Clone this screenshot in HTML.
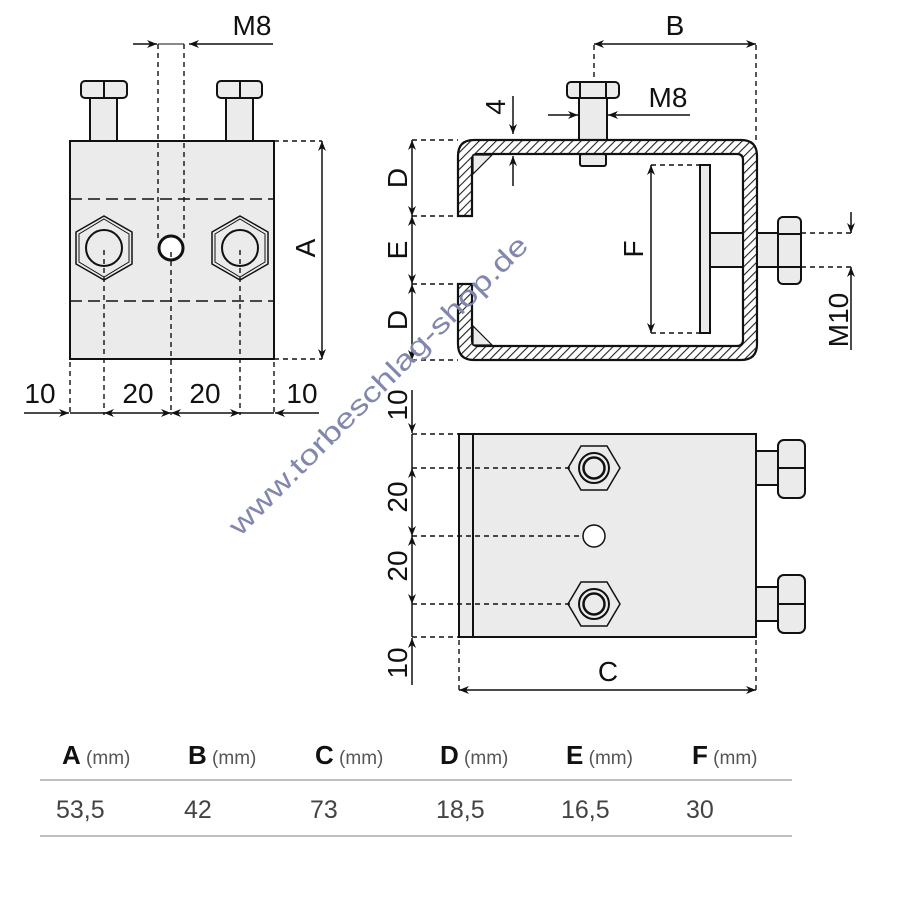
<!DOCTYPE html>
<html><head><meta charset="utf-8"><style>
html,body{margin:0;padding:0;background:#fff;}
svg{display:block;}
text{font-family:"Liberation Sans",sans-serif;fill:#111;}
</style></head><body>
<svg width="900" height="900" viewBox="0 0 900 900" xmlns="http://www.w3.org/2000/svg">
<defs>
<pattern id="h" width="6" height="6" patternUnits="userSpaceOnUse" patternTransform="rotate(45)">
<rect width="6" height="6" fill="#fff"/><line x1="0" y1="0" x2="0" y2="6" stroke="#222" stroke-width="2.2"/>
</pattern>
<marker id="a" viewBox="0 0 10 10" refX="10" refY="5" markerWidth="10" markerHeight="10" orient="auto-start-reverse" markerUnits="userSpaceOnUse">
<path d="M0,1 L10,5 L0,9 L3,5 z" fill="#111"/></marker>
</defs>
<g stroke="#111" stroke-width="2" fill="none">
<!-- LEFT VIEW -->
<rect x="90" y="97" width="27" height="44" fill="#ebebeb"/>
<rect x="226" y="97" width="27" height="44" fill="#ebebeb"/>
<rect x="81" y="81" width="46" height="17" rx="4" fill="#ebebeb"/><line x1="104" y1="81" x2="104" y2="98"/>
<rect x="217" y="81" width="45" height="17" rx="4" fill="#ebebeb"/><line x1="240" y1="81" x2="240" y2="98"/>
<rect x="70" y="141" width="204" height="218" fill="#ebebeb"/>
<g stroke-dasharray="12,6" stroke-width="1.6"><line x1="70" y1="199" x2="274" y2="199"/><line x1="70" y1="301" x2="274" y2="301"/></g>
<polygon points="104,216 132,232 132,264 104,280 76,264 76,232" stroke-width="1.5"/>
<polygon points="104,219 129,234 129,262 104,277 79,262 79,234" stroke-width="1"/>
<circle cx="104" cy="248" r="18"/>
<polygon points="240,216 268,232 268,264 240,280 212,264 212,232" stroke-width="1.5"/>
<polygon points="240,219 265,234 265,262 240,277 215,262 215,234" stroke-width="1"/>
<circle cx="240" cy="248" r="18"/>
<circle cx="171" cy="248" r="12" stroke-width="3" fill="#fff"/>
<g stroke-dasharray="5,4" stroke-width="1.4">
<line x1="158" y1="44" x2="158" y2="240"/><line x1="184" y1="44" x2="184" y2="240"/>
<line x1="70" y1="362" x2="70" y2="415"/><line x1="104" y1="250" x2="104" y2="415"/><line x1="171" y1="252" x2="171" y2="415"/><line x1="240" y1="250" x2="240" y2="415"/><line x1="274" y1="362" x2="274" y2="415"/>
<line x1="274" y1="141" x2="322" y2="141"/><line x1="274" y1="359" x2="322" y2="359"/>
</g>
<line x1="158" y1="44" x2="184" y2="44" stroke-width="1"/>
<g stroke-width="1.5">
<line x1="133" y1="44" x2="157" y2="44" marker-end="url(#a)"/>
<line x1="273" y1="44" x2="189" y2="44" marker-end="url(#a)"/>
<line x1="322" y1="141" x2="322" y2="359" marker-start="url(#a)" marker-end="url(#a)"/>
<line x1="24" y1="413" x2="69" y2="413" marker-end="url(#a)"/>
<line x1="104" y1="413" x2="171" y2="413" marker-start="url(#a)" marker-end="url(#a)"/>
<line x1="171" y1="413" x2="240" y2="413" marker-start="url(#a)" marker-end="url(#a)"/>
<line x1="319" y1="413" x2="275" y2="413" marker-end="url(#a)"/>
<line x1="70" y1="413" x2="104" y2="413"/><line x1="240" y1="413" x2="274" y2="413"/>
</g>
<!-- TOP RIGHT -->
<rect x="579" y="98" width="28" height="42" fill="#ebebeb"/>
<rect x="580" y="154" width="26" height="12" rx="2" fill="#ebebeb"/>
<rect x="567" y="82" width="52" height="16" rx="4" fill="#ebebeb"/><line x1="580" y1="82" x2="580" y2="98"/><line x1="606" y1="82" x2="606" y2="98"/>
<path fill="url(#h)" stroke-width="2.2" d="M472,216 L458,216 L458,156 Q458,140 474,140 L741,140 Q757,140 757,156 L757,344 Q757,360 741,360 L474,360 Q458,360 458,344 L458,284 L472,284 L472,340 Q472,346 478,346 L737,346 Q743,346 743,340 L743,160 Q743,154 737,154 L478,154 Q472,154 472,160 Z"/>
<polygon points="473,155 492,155 473,174" fill="#ebebeb" stroke-width="1.2"/>
<polygon points="473,345 492,345 473,326" fill="#ebebeb" stroke-width="1.2"/>
<rect x="700" y="165" width="10" height="168" fill="#ebebeb"/>
<rect x="710" y="233" width="33" height="34" fill="#ebebeb"/>
<rect x="757" y="233" width="21" height="34" fill="#ebebeb"/>
<rect x="778" y="217" width="23" height="67" rx="5" fill="#ebebeb"/><line x1="778" y1="234" x2="801" y2="234"/><line x1="778" y1="267" x2="801" y2="267"/>
<g stroke-dasharray="5,4" stroke-width="1.4">
<line x1="594" y1="45" x2="594" y2="80"/><line x1="756" y1="45" x2="756" y2="140"/>
<line x1="412" y1="140" x2="458" y2="140"/><line x1="412" y1="216" x2="458" y2="216"/><line x1="412" y1="284" x2="458" y2="284"/><line x1="412" y1="360" x2="458" y2="360"/>
<line x1="651" y1="165" x2="700" y2="165"/><line x1="651" y1="333" x2="700" y2="333"/>
<line x1="801" y1="233" x2="852" y2="233"/><line x1="801" y1="267" x2="852" y2="267"/>
</g>
<g stroke-width="1.5">
<line x1="594" y1="44" x2="756" y2="44" marker-start="url(#a)" marker-end="url(#a)"/>
<line x1="548" y1="115" x2="578" y2="115" marker-end="url(#a)"/>
<line x1="690" y1="115" x2="608" y2="115" marker-end="url(#a)"/>
<line x1="513" y1="96" x2="513" y2="134" marker-end="url(#a)"/>
<line x1="513" y1="186" x2="513" y2="156" marker-end="url(#a)"/>
<line x1="412" y1="140" x2="412" y2="216" marker-start="url(#a)" marker-end="url(#a)"/>
<line x1="412" y1="216" x2="412" y2="284" marker-start="url(#a)" marker-end="url(#a)"/>
<line x1="412" y1="284" x2="412" y2="360" marker-start="url(#a)" marker-end="url(#a)"/>
<line x1="651" y1="165" x2="651" y2="333" marker-start="url(#a)" marker-end="url(#a)"/>
<line x1="851" y1="212" x2="851" y2="233" marker-end="url(#a)"/>
<line x1="851" y1="350" x2="851" y2="267" marker-end="url(#a)"/>
</g>
<!-- BOTTOM RIGHT -->
<rect x="756" y="451" width="22" height="34" fill="#ebebeb"/>
<rect x="778" y="440" width="27" height="58" rx="6" fill="#ebebeb"/><line x1="778" y1="468" x2="805" y2="468"/>
<rect x="756" y="587" width="22" height="34" fill="#ebebeb"/>
<rect x="778" y="575" width="27" height="58" rx="6" fill="#ebebeb"/><line x1="778" y1="604" x2="805" y2="604"/>
<rect x="459" y="434" width="297" height="203" fill="#ebebeb"/>
<line x1="473" y1="434" x2="473" y2="637"/>
<polygon points="568,468 581,446 607,446 620,468 607,490 581,490" stroke-width="1.5"/>
<circle cx="594" cy="468" r="15"/><circle cx="594" cy="468" r="10.5" stroke-width="2.5"/>
<polygon points="568,604 581,582 607,582 620,604 607,626 581,626" stroke-width="1.5"/>
<circle cx="594" cy="604" r="15"/><circle cx="594" cy="604" r="10.5" stroke-width="2.5"/>
<circle cx="594" cy="536" r="11" fill="#fff" stroke-width="1.5"/>
<g stroke-dasharray="5,4" stroke-width="1.4">
<line x1="412" y1="434" x2="459" y2="434"/><line x1="412" y1="637" x2="459" y2="637"/>
<line x1="412" y1="468" x2="570" y2="468"/><line x1="412" y1="536" x2="583" y2="536"/><line x1="412" y1="604" x2="570" y2="604"/>
<line x1="459" y1="640" x2="459" y2="690"/><line x1="756" y1="640" x2="756" y2="690"/>
</g>
<g stroke-width="1.5">
<line x1="412" y1="390" x2="412" y2="433" marker-end="url(#a)"/>
<line x1="412" y1="434" x2="412" y2="468"/>
<line x1="412" y1="468" x2="412" y2="536" marker-start="url(#a)" marker-end="url(#a)"/>
<line x1="412" y1="536" x2="412" y2="604" marker-start="url(#a)" marker-end="url(#a)"/>
<line x1="412" y1="604" x2="412" y2="637"/>
<line x1="412" y1="685" x2="412" y2="638" marker-end="url(#a)"/>
<line x1="459" y1="690" x2="756" y2="690" marker-start="url(#a)" marker-end="url(#a)"/>
</g>
<line x1="40" y1="780" x2="792" y2="780" stroke="#aaa" stroke-width="1.5"/>
<line x1="40" y1="836" x2="792" y2="836" stroke="#aaa" stroke-width="1.5"/>
</g>
<!-- LABELS -->
<g font-size="28">
<text x="252" y="35" text-anchor="middle">M8</text>
<text x="40" y="403" text-anchor="middle">10</text>
<text x="138" y="403" text-anchor="middle">20</text>
<text x="205" y="403" text-anchor="middle">20</text>
<text x="302" y="403" text-anchor="middle">10</text>
<text transform="translate(315,248) rotate(-90)" text-anchor="middle">A</text>
<text x="675" y="35" text-anchor="middle">B</text>
<text x="668" y="107" text-anchor="middle">M8</text>
<text transform="translate(505,107) rotate(-90)" text-anchor="middle">4</text>
<text transform="translate(407,178) rotate(-90)" text-anchor="middle">D</text>
<text transform="translate(407,250) rotate(-90)" text-anchor="middle">E</text>
<text transform="translate(407,320) rotate(-90)" text-anchor="middle">D</text>
<text transform="translate(643,249) rotate(-90)" text-anchor="middle">F</text>
<text transform="translate(848,320) rotate(-90)" text-anchor="middle">M10</text>
<text transform="translate(407,405) rotate(-90)" text-anchor="middle">10</text>
<text transform="translate(407,497) rotate(-90)" text-anchor="middle">20</text>
<text transform="translate(407,566) rotate(-90)" text-anchor="middle">20</text>
<text transform="translate(407,663) rotate(-90)" text-anchor="middle">10</text>
<text x="608" y="681" text-anchor="middle">C</text>
</g>
<text transform="translate(385,392) rotate(-45)" text-anchor="middle" font-size="28" textLength="410" lengthAdjust="spacingAndGlyphs" style="fill:#8287ad">www.torbeschlag-shop.de</text>
<!-- TABLE -->
<g font-size="26">
<text x="62" y="764"><tspan font-weight="bold">A</tspan><tspan font-size="19" style="fill:#555"> (mm)</tspan></text>
<text x="188" y="764"><tspan font-weight="bold">B</tspan><tspan font-size="19" style="fill:#555"> (mm)</tspan></text>
<text x="315" y="764"><tspan font-weight="bold">C</tspan><tspan font-size="19" style="fill:#555"> (mm)</tspan></text>
<text x="440" y="764"><tspan font-weight="bold">D</tspan><tspan font-size="19" style="fill:#555"> (mm)</tspan></text>
<text x="566" y="764"><tspan font-weight="bold">E</tspan><tspan font-size="19" style="fill:#555"> (mm)</tspan></text>
<text x="692" y="764"><tspan font-weight="bold">F</tspan><tspan font-size="19" style="fill:#555"> (mm)</tspan></text>
</g>
<g font-size="25">
<text x="56" y="818" style="fill:#444">53,5</text>
<text x="184" y="818" style="fill:#444">42</text>
<text x="310" y="818" style="fill:#444">73</text>
<text x="436" y="818" style="fill:#444">18,5</text>
<text x="561" y="818" style="fill:#444">16,5</text>
<text x="686" y="818" style="fill:#444">30</text>
</g>
</svg>
</body></html>
